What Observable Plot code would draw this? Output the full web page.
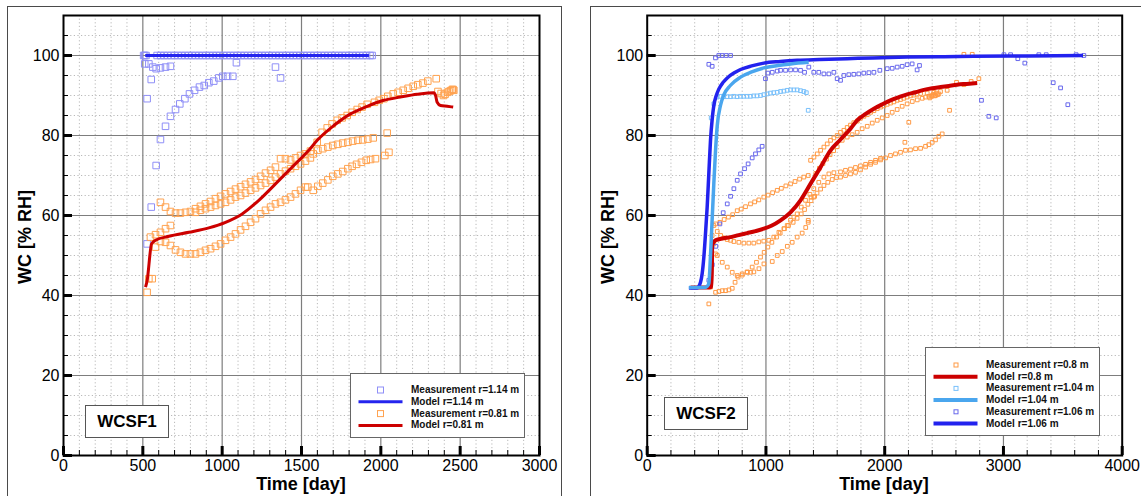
<!DOCTYPE html>
<html>
<head>
<meta charset="utf-8">
<script src="https://cdn.jsdelivr.net/npm/d3@7"></script>
<script src="https://cdn.jsdelivr.net/npm/@observablehq/plot@0.6"></script>
<style>
  body { margin: 0; background: #fff; font-family: "Liberation Sans", Arial, Helvetica, sans-serif; }
  #root { position: relative; width: 1141px; height: 496px; overflow: hidden; background: #fff; }
  .panel { position: absolute; top: 0; }
  .panel svg { max-width: none !important; }
  .outer { position: absolute; border: 1px solid #4a4a4a; border-bottom: none; pointer-events: none; }
  .ytitle { position: absolute; font-weight: bold; font-size: 18px; white-space: nowrap;
            transform: translate(-50%, -50%) rotate(-90deg); color: #000; }
  .xtitle { position: absolute; font-weight: bold; font-size: 18px; white-space: nowrap;
            transform: translateX(-50%); color: #000; line-height: normal; }
  .tag { position: absolute; box-sizing: border-box; border: 1px solid #555; background: #fff;
         font-weight: bold; font-size: 17px; display: flex; align-items: center; justify-content: center; }
  .legend { position: absolute; box-sizing: border-box; border: 1px solid #666; background: #fff; }
  .legend .lab { position: absolute; font-weight: bold; font-size: 10px; white-space: nowrap;
                 transform: translateY(-50%); color: #111; line-height: 10px; }
  .legend svg { position: absolute; left: 0; top: 0; overflow: visible; }
</style>
</head>
<body>
<div id="root"></div>
<script>
// ---------------- DATA ----------------
// Axis ticks
const yTicks = [0, 20, 40, 60, 80, 100];
const xTicksLeft = [0, 500, 1000, 1500, 2000, 2500, 3000];
const xTicksRight = [0, 1000, 2000, 3000, 4000];

// ===== WCSF1 (left) =====
// Measurement r=1.14 m : the row of readings at 100 % RH
const wcsf1Meas114TopDays = [505, 512, 520, 590, 612, 634, 656, 678, 700, 722, 744, 766, 788, 810, 832, 854, 876, 898,
  920, 942, 964, 986, 1008, 1030, 1052, 1074, 1096, 1118, 1140, 1162, 1184, 1206, 1228, 1250, 1272, 1294,
  1316, 1338, 1360, 1382, 1404, 1426, 1448, 1470, 1492, 1514, 1536, 1558, 1580, 1602, 1624, 1646, 1668,
  1690, 1712, 1734, 1756, 1778, 1800, 1822, 1844, 1866, 1888, 1910, 1932, 1945];
const wcsf1Meas114TopValue = 100;
// Measurement r=1.14 m : other readings
const wcsf1Meas114 = [[512, 97.9], [538, 97.9], [563, 97.1], [584, 96.7], [611, 96.9], [643, 97.1], [674, 97.3],
  [1090, 98.2], [1336, 97.1], [1368, 94.4], [553, 94.0], [527, 89.2],
  [584, 72.5], [611, 79.0], [643, 82.3], [674, 84.8], [706, 86.5], [733, 87.9], [765, 89.2], [794, 90.4],
  [826, 91.3], [857, 92.1], [887, 92.5], [916, 93.2], [947, 93.6], [979, 94.4], [1004, 94.8], [1034, 94.8],
  [1067, 94.8], [553, 62.1], [527, 52.9]];
// Model r=1.14 m
const wcsf1Model114 = [[515, 100], [1925, 100]];
// Measurement r=0.81 m : upper sensor
const wcsf1Meas081A = [[611, 63.3], [643, 62.1], [674, 61.0], [706, 60.6], [737, 60.6], [769, 60.8], [800, 61.0],
  [832, 61.7], [863, 62.3], [895, 62.9], [927, 63.5], [958, 64.2], [990, 64.8], [1021, 65.4], [1053, 66.0],
  [1084, 66.6], [1116, 67.2], [1147, 67.8], [1179, 68.4], [1210, 69.0], [1242, 69.8], [1273, 70.6], [1305, 71.3],
  [1336, 72.1], [1368, 74.2], [1399, 74.2], [1431, 73.9], [1462, 74.4], [1494, 75.0], [1525, 75.4], [1556, 76.1],
  [1599, 78.3], [1630, 80.8], [1662, 81.9], [1693, 82.9], [1725, 83.8], [1756, 84.4], [1788, 85.0], [1819, 85.8],
  [1851, 86.5], [1882, 87.1], [1914, 87.8], [1960, 88.3], [1990, 88.8], [2019, 89.2], [2044, 89.8], [2078, 90.4],
  [2109, 90.8], [2141, 91.3], [2172, 91.8], [2204, 92.3], [2233, 92.7], [2265, 93.1], [2296, 93.6], [2349, 94.2]];
// Measurement r=0.81 m : middle sensor
const wcsf1Meas081B = [[548, 54.6], [580, 55.2], [611, 55.8], [643, 56.7], [674, 57.5],
  [832, 60.8], [863, 61.3], [895, 61.7], [927, 62.1], [958, 62.5], [990, 62.9], [1021, 63.3], [1053, 63.9],
  [1084, 64.6], [1116, 65.0], [1147, 65.6], [1179, 66.3], [1210, 66.9], [1242, 67.5], [1273, 68.1], [1305, 68.8],
  [1336, 69.6], [1368, 70.4], [1399, 71.1], [1431, 71.7], [1462, 72.3], [1494, 72.9], [1525, 73.6], [1556, 74.4],
  [1574, 75.4], [1603, 76.3], [1634, 76.7], [1666, 77.1], [1697, 77.5], [1729, 77.8], [1760, 78.1], [1792, 78.3],
  [1823, 78.6], [1855, 78.8], [1886, 78.9], [1918, 79.1], [1952, 79.4], [2040, 80.6]];
// Measurement r=0.81 m : lower sensor
const wcsf1Meas081C = [[527, 40.8], [538, 44.2], [559, 44.2], [580, 52.1], [611, 53.5], [643, 53.3], [674, 52.5],
  [706, 51.4], [737, 50.8], [769, 50.4], [800, 50.4], [832, 50.4], [863, 50.8], [895, 51.3], [927, 51.7],
  [958, 52.3], [990, 52.9], [1021, 53.8], [1053, 54.6], [1084, 55.4], [1116, 56.4], [1147, 57.3], [1179, 58.3],
  [1210, 59.2], [1242, 60.4], [1273, 61.3], [1305, 62.1], [1336, 62.9], [1368, 63.3], [1399, 63.9], [1431, 64.6],
  [1462, 65.4], [1494, 66.3], [1525, 67.1], [1540, 67.1], [1574, 66.3], [1603, 67.3], [1634, 68.1], [1666, 68.9],
  [1697, 69.8], [1729, 70.4], [1760, 71.0], [1792, 71.7], [1819, 72.3], [1847, 72.8], [1878, 73.3], [1908, 73.8],
  [1935, 74.0], [1966, 74.2], [2025, 75.0], [2051, 75.8]];
// Measurement r=0.81 m : late readings
const wcsf1Meas081Late = [[2360, 91.0], [2380, 90.5], [2395, 90.0], [2405, 90.3], [2420, 90.8], [2430, 91.0],
  [2440, 91.2], [2450, 91.5], [2455, 91.5], [2460, 91.3]];
// Model r=0.81 m
const wcsf1Model081 = [[517, 42.1], [527, 43.7], [555, 52.9], [580, 53.8], [664, 54.8], [790, 55.8], [916, 56.9],
  [1021, 58.3], [1126, 60.4], [1231, 63.8], [1336, 67.9], [1441, 72.1], [1546, 76.3], [1599, 78.8], [1704, 82.5],
  [1809, 85.4], [1914, 87.3], [2019, 88.8], [2124, 89.6], [2229, 90.3], [2334, 90.7], [2345, 90.0], [2355, 88.3],
  [2376, 87.5], [2418, 87.3], [2456, 87.1]];

// ===== WCSF2 (right) =====
// Measurement r=0.8 m (several sensors)
const wcsf2Meas08A = [[576, 57.9], [612, 58.3], [648, 59.0], [684, 59.6], [720, 60.2], [758, 61.2], [792, 61.6],
  [828, 62.2], [870, 62.9], [905, 63.4], [940, 63.9], [982, 64.6], [1018, 65.1], [1056, 65.7], [1095, 66.3],
  [1130, 66.8], [1168, 67.4], [1207, 67.9], [1245, 68.5], [1283, 69.1], [1319, 69.6], [1356, 70.0]];
const wcsf2Meas08B = [[1376, 73.8], [1404, 74.6], [1432, 75.4], [1460, 76.3], [1488, 77.1], [1516, 77.9],
  [1544, 78.8], [1572, 79.4], [1600, 80.0], [1628, 80.8], [1656, 81.3], [1684, 82.0], [1712, 82.6], [1740, 83.2],
  [1769, 83.6], [1796, 84.3], [1825, 84.8], [1853, 85.2], [1881, 85.8], [1909, 86.2], [1937, 86.7], [1965, 87.1],
  [1993, 87.4], [2021, 87.8], [2049, 88.1], [2077, 88.4], [2105, 88.8], [2133, 89.0], [2161, 89.3], [2189, 89.6],
  [2217, 89.9], [2245, 90.1], [2273, 90.3], [2302, 90.5], [2358, 90.6], [2414, 90.8], [2470, 91.0], [2526, 91.3],
  [2605, 93.3], [2667, 92.7], [2728, 93.5], [2793, 94.2]];
const wcsf2Meas08C = [[1420, 70.5], [1450, 71.8], [1480, 73.0], [1510, 74.1], [1540, 75.2], [1570, 76.2],
  [1600, 77.2], [1642, 78.8], [1684, 79.6], [1726, 80.2], [1768, 80.8], [1810, 81.7], [1853, 82.3], [1895, 83.1],
  [1937, 83.8], [1979, 84.4], [2021, 85.0], [2063, 85.8], [2105, 86.5], [2147, 87.3], [2189, 87.9], [2232, 88.5],
  [2274, 88.9], [2316, 89.3], [2344, 89.6], [2372, 89.8], [2400, 90.0], [2428, 90.0], [2456, 90.4],
  [2380, 89.4], [2395, 89.8], [2410, 90.3], [2420, 89.9], [2435, 90.6], [2445, 90.2]];
const wcsf2Meas08D = [[519, 37.9], [533, 42.1], [576, 40.8], [604, 41.0], [632, 41.2], [660, 41.2], [688, 41.4],
  [716, 41.8], [740, 43.3], [765, 44.6], [800, 45.4], [842, 45.8], [870, 45.8], [898, 45.9], [941, 46.7],
  [983, 47.9], [1053, 48.5], [1095, 50.0], [1137, 51.0], [1180, 52.3], [1221, 53.3], [1263, 54.6], [1305, 55.6],
  [1335, 57.0], [1356, 58.3]];
const wcsf2Meas08E = [[547, 55.0], [561, 52.9], [575, 50.4], [590, 50.0], [632, 48.3], [674, 47.1], [716, 45.8],
  [758, 45.0], [800, 45.1], [842, 45.9], [884, 47.1], [920, 48.3], [954, 49.6], [985, 50.8], [1016, 52.1],
  [1050, 53.3], [1089, 54.6], [1120, 55.6], [1156, 56.7], [1190, 57.5], [1229, 58.3], [1262, 59.3], [1297, 60.4],
  [1325, 61.5], [1353, 62.8], [1380, 63.7], [1403, 64.6], [1430, 65.6], [1460, 66.6], [1488, 67.5], [1521, 68.3],
  [1558, 69.0], [1594, 69.5], [1628, 69.6], [1670, 70.0], [1712, 70.4], [1754, 70.8], [1796, 71.4], [1839, 72.1],
  [1881, 72.8], [1923, 73.3], [1965, 73.9], [2007, 74.4], [2049, 75.0], [2091, 75.4], [2133, 75.8], [2175, 76.3],
  [2217, 76.4], [2260, 76.7], [2302, 76.8], [2344, 77.3], [2372, 77.7], [2400, 78.3], [2428, 78.9], [2456, 79.8],
  [2484, 80.4]];
const wcsf2Meas08F = [[561, 57.5], [590, 56.0], [618, 55.0], [646, 54.4], [674, 54.0], [702, 53.8], [730, 53.5],
  [772, 53.3], [814, 53.1], [856, 53.1], [898, 53.1], [940, 53.4], [982, 53.6], [1024, 53.8], [1066, 54.6],
  [1109, 55.8], [1151, 56.7], [1179, 57.5], [1207, 58.8], [1235, 59.6], [1263, 60.4], [1297, 62.1], [1333, 63.8],
  [1370, 65.3], [1403, 66.7], [1445, 68.3], [1488, 69.6], [1530, 70.4], [1572, 70.7], [1628, 70.9], [1670, 71.3],
  [1712, 71.6], [1754, 72.0], [1796, 72.4], [1839, 72.8], [1881, 73.3], [1923, 73.8], [1965, 74.3]];
const wcsf2Meas08Other = [[2170, 78.3], [2203, 83.3], [2546, 86.3], [2667, 100.3], [2737, 100.3], [1356, 58.8],
  [1380, 64.6], [1410, 64.8]];
// Model r=0.8 m
const wcsf2Model08 = [[365, 42.0], [519, 42.0], [540, 42.2], [545, 47.0], [547, 52.5], [560, 53.3], [575, 53.8],
  [640, 54.3], [702, 54.6], [770, 55.1], [842, 55.6], [912, 56.1], [982, 56.7], [1050, 57.5], [1123, 58.8],
  [1207, 60.8], [1291, 63.8], [1375, 67.9], [1460, 72.1], [1544, 76.3], [1628, 79.0], [1712, 81.7], [1768, 83.8],
  [1840, 85.4], [1909, 86.7], [1980, 87.8], [2049, 88.8], [2120, 89.6], [2189, 90.3], [2260, 90.8], [2330, 91.4],
  [2400, 91.8], [2470, 92.1], [2540, 92.4], [2610, 92.7], [2690, 92.9], [2779, 93.1]];
// Measurement r=1.04 m
const wcsf2Meas104 = [[539, 84.4], [561, 87.9], [589, 89.6], [617, 89.8], [645, 89.7], [673, 89.7], [701, 89.7],
  [729, 89.8], [757, 89.7], [785, 89.8], [813, 89.8], [841, 89.8], [869, 89.8], [897, 89.9], [925, 89.9],
  [954, 90.0], [982, 90.2], [1010, 90.4], [1038, 90.6], [1066, 90.7], [1095, 90.8], [1123, 91.0], [1151, 91.1],
  [1179, 91.3], [1207, 91.4], [1235, 91.4], [1263, 91.4], [1291, 91.2], [1319, 91.0], [1340, 90.7], [1356, 86.3]];
// Model r=1.04 m
const wcsf2Model104 = [[351, 42.0], [480, 42.0], [505, 42.3], [519, 43.0], [533, 50.0], [547, 59.0], [561, 68.0],
  [575, 76.0], [590, 82.5], [617, 87.5], [646, 90.2], [700, 92.5], [786, 94.6], [880, 95.9], [982, 96.9],
  [1100, 97.5], [1207, 97.9], [1360, 98.3]];
// Measurement r=1.06 m
const wcsf2Meas106 = [[519, 43.8], [548, 47.7], [578, 52.3], [612, 57.9], [640, 60.7], [674, 62.9], [702, 64.8],
  [730, 66.7], [758, 68.8], [786, 70.4], [820, 71.7], [850, 72.9], [884, 74.4], [912, 75.4], [940, 76.4],
  [968, 77.3], [519, 97.8], [547, 97.3], [575, 99.4], [603, 100], [631, 100], [665, 100], [702, 100],
  [996, 94.2], [1016, 95.6], [1053, 95.8], [1095, 96.1], [1123, 96.3], [1165, 96.3], [1207, 96.4], [1249, 96.4],
  [1291, 96.3], [1325, 95.8], [1361, 97.1], [1403, 95.8], [1445, 95.8], [1488, 95.4], [1530, 95.4], [1572, 95.8],
  [1600, 94.2], [1628, 93.8], [1656, 95.0], [1698, 95.2], [1740, 95.3], [1782, 95.4], [1824, 95.6], [1867, 95.7],
  [1909, 95.8], [1959, 96.3], [2021, 96.7], [2063, 96.8], [2105, 97.1], [2147, 97.3], [2189, 97.7], [2231, 97.9],
  [2273, 96.4], [2293, 97.5], [2815, 88.8], [2877, 84.8], [2939, 84.4], [3004, 100.2], [3060, 100.2],
  [3121, 99.2], [3180, 98.1], [3298, 100.2], [3360, 100.2], [3419, 93.2], [3481, 91.9], [3542, 87.7],
  [3612, 100.2], [3677, 100.0]];
// Model r=1.06 m
const wcsf2Model106 = [[351, 41.9], [421, 41.9], [449, 43.3], [463, 45.5], [477, 49.6], [491, 55.5], [505, 62.1],
  [519, 70.5], [533, 78.8], [547, 84.0], [561, 87.5], [582, 90.0], [603, 91.6], [640, 93.3], [674, 94.4],
  [730, 95.6], [786, 96.5], [880, 97.4], [982, 98.1], [1120, 98.5], [1263, 98.8], [1450, 99.0], [1684, 99.2],
  [1900, 99.4], [2189, 99.6], [2500, 99.7], [2751, 99.8], [3200, 99.9], [3670, 100.0]];

// ---------------- STYLE ----------------
const C = {
  meas114: "#8f8ff7", model114: "#2424ee",
  meas081: "#ffa24f", model081: "#cc0000",
  meas08: "#ff9a45", model08: "#cc0000",
  meas104: "#79c0fb", model104: "#4aa6ee",
  meas106: "#6868ec", model106: "#2222ee"
};
const FONT = '"Liberation Sans", Arial, Helvetica, sans-serif';

function panel(cfg) {
  const {width, height, ml, mr, mt, mb, xDomain, xTicks, xMinorStep, layers} = cfg;
  const yDomain = [0, 110];
  const pxY = (height - mt - mb) / (yDomain[1] - yDomain[0]);
  const pxX = (width - ml - mr) / (xDomain[1] - xDomain[0]);
  const xMinor = d3.range(xDomain[0], xDomain[1] + 1e-9, xMinorStep).filter(v => !xTicks.includes(v));
  const yMinor = d3.range(0, 110 + 1e-9, 5).filter(v => !yTicks.includes(v) && v > 0 && v < 110);
  const marks = [
    Plot.ruleX(xMinor, {stroke: "#b9b9b9", strokeDasharray: "1.2,2.4", strokeWidth: 1}),
    Plot.ruleY(yMinor, {stroke: "#b9b9b9", strokeDasharray: "1.2,2.4", strokeWidth: 1}),
    Plot.ruleX(xTicks.filter(v => v > xDomain[0] && v < xDomain[1]), {stroke: "#7d7d7d", strokeWidth: 1.2}),
    Plot.ruleY(yTicks.filter(v => v > 0), {stroke: "#7d7d7d", strokeWidth: 1.2}),
  ];
  for (const L of layers) {
    if (L.type === "dot") {
      marks.push(Plot.dot(L.data, {x: d => d[0], y: d => d[1], symbol: "square", r: L.r,
        stroke: L.color, strokeWidth: L.sw || 1, fill: "none"}));
    } else {
      marks.push(Plot.line(L.data, {x: d => d[0], y: d => d[1], stroke: L.color, strokeWidth: L.sw,
        curve: "monotone-x", strokeLinejoin: "round", strokeLinecap: "butt"}));
    }
  }
  marks.push(
    Plot.frame({stroke: "#000", strokeWidth: 2}),
    Plot.ruleX(xTicks, {y1: 0, y2: 9 / pxY, stroke: "#000", strokeWidth: 3}),
    Plot.ruleX(xMinor, {y1: 0, y2: 5 / pxY, stroke: "#000", strokeWidth: 1}),
    Plot.ruleY(yTicks, {x1: xDomain[0], x2: xDomain[0] + 9 / pxX, stroke: "#000", strokeWidth: 3}),
    Plot.ruleY(yMinor, {x1: xDomain[0], x2: xDomain[0] + 5 / pxX, stroke: "#000", strokeWidth: 1})
  );
  return Plot.plot({
    width, height, marginLeft: ml, marginRight: mr, marginTop: mt, marginBottom: mb,
    style: {fontFamily: FONT, fontSize: "16px", color: "#000", background: "transparent", overflow: "visible"},
    x: {domain: xDomain, ticks: xTicks, tickSize: 0, tickPadding: 4, tickFormat: d => String(d), label: null},
    y: {domain: yDomain, ticks: yTicks, tickSize: 0, tickPadding: 4, tickFormat: d => String(d), label: null},
    marks
  });
}

const root = document.getElementById("root");
function addDiv(cls, css, html) {
  const d = document.createElement("div");
  d.className = cls;
  Object.assign(d.style, css);
  if (html != null) d.innerHTML = html;
  root.appendChild(d);
  return d;
}

// Left panel
const leftPlot = panel({
  width: 580, height: 496, ml: 63, mr: 41, mt: 15, mb: 41,
  xDomain: [0, 3000], xTicks: xTicksLeft, xMinorStep: 100,
  layers: [
    {type: "dot", data: wcsf1Meas114TopDays.map(d => [d, wcsf1Meas114TopValue]), color: C.meas114, r: 3.7},
    {type: "dot", data: wcsf1Meas114, color: C.meas114, r: 3.7},
    {type: "dot", data: wcsf1Meas081A, color: C.meas081, r: 3.7},
    {type: "dot", data: wcsf1Meas081B, color: C.meas081, r: 3.7},
    {type: "dot", data: wcsf1Meas081C, color: C.meas081, r: 3.7},
    {type: "dot", data: wcsf1Meas081Late, color: C.meas081, r: 3.7},
    {type: "line", data: wcsf1Model114, color: C.model114, sw: 3},
    {type: "line", data: wcsf1Model081, color: C.model081, sw: 3}
  ]
});
const lp = addDiv("panel", {left: "0px", width: "580px", height: "496px"});
lp.appendChild(leftPlot);

// Right panel
const rightPlot = panel({
  width: 556, height: 496, ml: 61.7, mr: 19.3, mt: 15, mb: 41,
  xDomain: [0, 4000], xTicks: xTicksRight, xMinorStep: 200,
  layers: [
    {type: "dot", data: wcsf2Meas08A, color: C.meas08, r: 2.1},
    {type: "dot", data: wcsf2Meas08B, color: C.meas08, r: 2.1},
    {type: "dot", data: wcsf2Meas08C, color: C.meas08, r: 2.1},
    {type: "dot", data: wcsf2Meas08D, color: C.meas08, r: 2.1},
    {type: "dot", data: wcsf2Meas08E, color: C.meas08, r: 2.1},
    {type: "dot", data: wcsf2Meas08F, color: C.meas08, r: 2.1},
    {type: "dot", data: wcsf2Meas08Other, color: C.meas08, r: 2.1},
    {type: "dot", data: wcsf2Meas104, color: C.meas104, r: 2.1},
    {type: "dot", data: wcsf2Meas106, color: C.meas106, r: 2.1},
    {type: "line", data: wcsf2Model08, color: C.model08, sw: 4},
    {type: "line", data: wcsf2Model106, color: C.model106, sw: 3.5},
    {type: "line", data: wcsf2Model104, color: C.model104, sw: 3.5}
  ]
});
const rp = addDiv("panel", {left: "585px", width: "556px", height: "496px"});
rp.appendChild(rightPlot);

// Outer frames
addDiv("outer", {left: "7px", top: "6px", width: "553px", height: "520px"});
addDiv("outer", {left: "590px", top: "6px", width: "600px", height: "520px"});

// Axis titles
addDiv("xtitle", {left: "301px", top: "474px"}, "Time [day]");
addDiv("xtitle", {left: "884px", top: "474px"}, "Time [day]");
addDiv("ytitle", {left: "25px", top: "237px"}, "WC [% RH]");
addDiv("ytitle", {left: "608px", top: "237px"}, "WC [% RH]");

// Tags
addDiv("tag", {left: "85px", top: "405px", width: "84px", height: "33px"}, "WCSF1");
addDiv("tag", {left: "664px", top: "397px", width: "84px", height: "33px"}, "WCSF2");

// Legends
function legend(box, items) {
  const lg = addDiv("legend", {left: box.left + "px", top: box.top + "px", width: box.width + "px", height: box.height + "px"});
  const svgNS = "http://www.w3.org/2000/svg";
  const svg = document.createElementNS(svgNS, "svg");
  svg.setAttribute("width", box.width);
  svg.setAttribute("height", box.height);
  items.forEach((it, i) => {
    const cy = box.y0 + i * box.dy;
    if (it.kind === "sq") {
      const r = document.createElementNS(svgNS, "rect");
      r.setAttribute("x", box.mx - it.size / 2);
      r.setAttribute("y", cy - it.size / 2);
      r.setAttribute("width", it.size);
      r.setAttribute("height", it.size);
      r.setAttribute("fill", "none");
      r.setAttribute("stroke", it.color);
      r.setAttribute("stroke-width", 1);
      svg.appendChild(r);
    } else {
      const l = document.createElementNS(svgNS, "line");
      l.setAttribute("x1", box.lx1); l.setAttribute("x2", box.lx2);
      l.setAttribute("y1", cy); l.setAttribute("y2", cy);
      l.setAttribute("stroke", it.color);
      l.setAttribute("stroke-width", it.width);
      svg.appendChild(l);
    }
    const t = document.createElement("div");
    t.className = "lab";
    t.style.left = box.tx + "px";
    t.style.top = cy + "px";
    t.textContent = it.label;
    lg.appendChild(t);
  });
  lg.appendChild(svg);
}
legend({left: 350, top: 373, width: 175, height: 65, y0: 16, dy: 11.8, mx: 29.5, lx1: 7.5, lx2: 51.5, tx: 60}, [
  {kind: "sq", color: C.meas114, size: 6, label: "Measurement r=1.14 m"},
  {kind: "line", color: C.model114, width: 3, label: "Model r=1.14 m"},
  {kind: "sq", color: C.meas081, size: 6, label: "Measurement r=0.81 m"},
  {kind: "line", color: C.model081, width: 3, label: "Model r=0.81 m"}
]);
legend({left: 925, top: 347, width: 175, height: 89, y0: 17, dy: 11.7, mx: 30, lx1: 7.5, lx2: 51.5, tx: 60}, [
  {kind: "sq", color: C.meas08, size: 4, label: "Measurement r=0.8 m"},
  {kind: "line", color: C.model08, width: 4, label: "Model r=0.8 m"},
  {kind: "sq", color: C.meas104, size: 4, label: "Measurement r=1.04 m"},
  {kind: "line", color: C.model104, width: 4, label: "Model r=1.04 m"},
  {kind: "sq", color: C.meas106, size: 4, label: "Measurement r=1.06 m"},
  {kind: "line", color: C.model106, width: 4, label: "Model r=1.06 m"}
]);
</script>
</body>
</html>
